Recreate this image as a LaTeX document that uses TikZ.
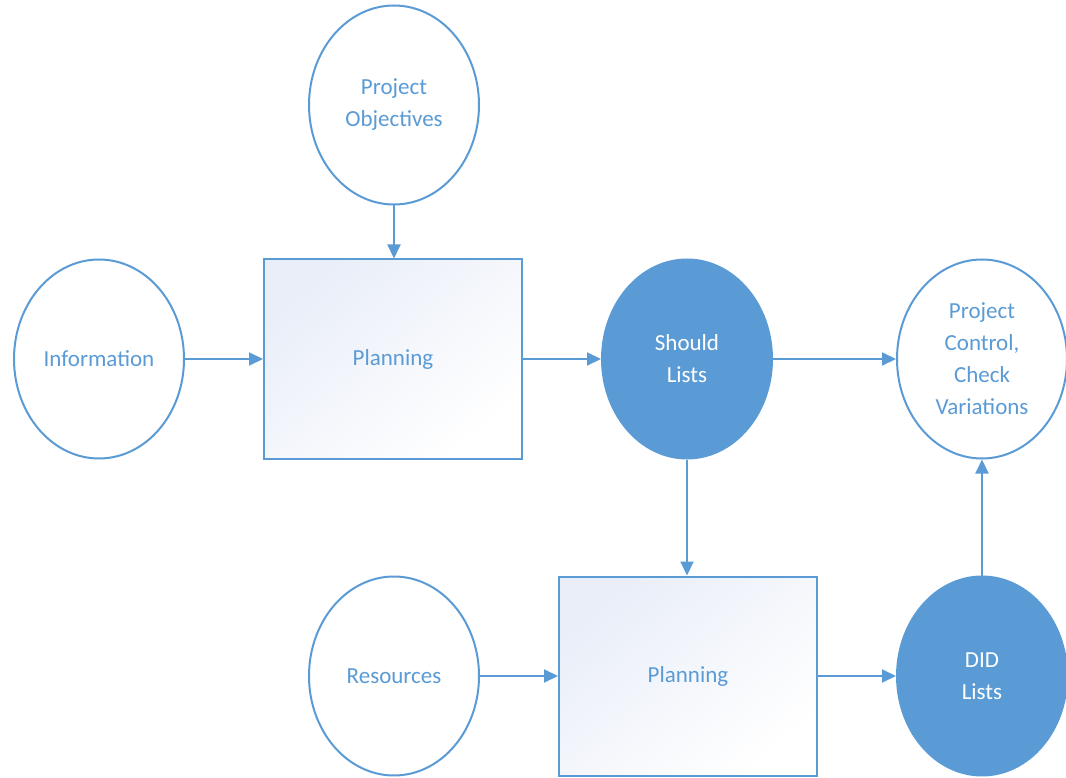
\documentclass[tikz,border=0pt]{standalone}
\usepackage{fontspec}
\setmainfont{Carlito}
\usetikzlibrary{shapes.geometric,arrows.meta}
\definecolor{lineblue}{HTML}{5B9BD5}
\definecolor{shadeblue}{HTML}{E9EEF8}
\tikzset{
  blob/.style={ellipse,draw=lineblue,line width=2pt,fill=white,text=lineblue,
    minimum width=170pt,minimum height=199pt,inner sep=0pt,align=center},
  darkblob/.style={blob,fill=lineblue,text=white},
  task/.style={rectangle,draw=lineblue,line width=2pt,text=lineblue,
    minimum width=258pt,minimum height=199pt,inner sep=0pt,
    top color=shadeblue,bottom color=white,shading angle=40},
}
\begin{document}
\begin{tikzpicture}[x=1pt,y=-1pt,font=\fontsize{23}{32}\selectfont]
\useasboundingbox (0,0) rectangle (1066,778);
\begin{scope}
\node[blob] (PO) at (394,105) {Project\\Objectives};
\node[blob] (Info) at (99,359) {Information};
\node[task] (P1) at (393,359) {Planning};
\node[darkblob] (SL) at (687,359) {Should\\Lists};
\node[blob] (PC) at (982,359) {Project\\Control,\\Check\\Variations};
\node[blob] (Res) at (394,676) {Resources};
\node[task] (P2) at (688,676) {Planning};
\node[darkblob] (DID) at (982,676) {DID\\Lists};
\end{scope}

\begin{scope}[every edge/.style={draw=lineblue,line width=2pt},
  >={Triangle[length=14pt,width=13pt]}]
    \path [->] (PO) edge (P1.north -| PO);
    \path [->] (Info) edge (P1);
    \path [->] (P1) edge (SL);
    \path [->] (SL) edge (PC);
    \path [->] (SL) edge (P2.north -| SL);
    \path [->] (Res) edge (P2);
    \path [->] (P2) edge (DID);
    \path [->] (DID) edge (PC);
\end{scope}
\end{tikzpicture}
\end{document}
